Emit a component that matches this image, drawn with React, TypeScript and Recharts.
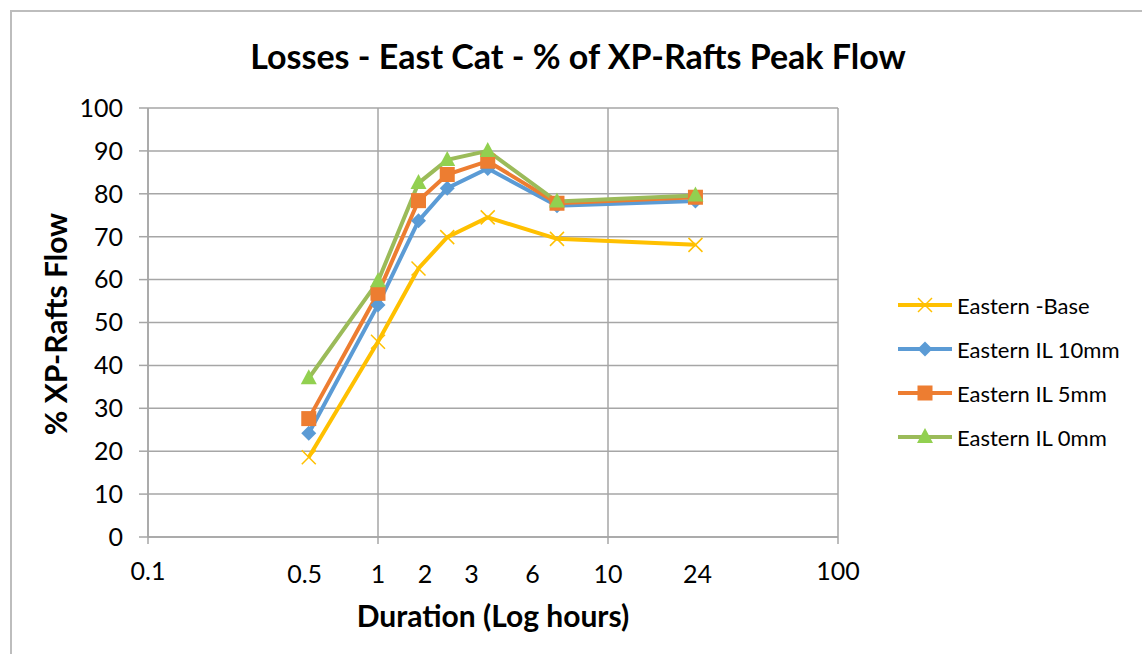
import React from 'react';
import { LineChart, Line, XAxis, YAxis, CartesianGrid, Legend, ReferenceLine } from 'recharts';

const durations = [0.5, 1, 1.5, 2, 3, 6, 24];
const easternBase = [18.6, 45.5, 62.6, 69.9, 74.5, 69.5, 68.1];
const easternIL10 = [24.2, 54.1, 73.7, 81.3, 85.9, 77.2, 78.3];
const easternIL5 = [27.6, 56.8, 78.4, 84.5, 87.6, 77.8, 79.2];
const easternIL0 = [37.0, 59.6, 82.5, 87.9, 90.0, 78.2, 79.6];

const decadeTicks = [0.1, 1, 10, 100];
const xLabelPositions = [0.1, 0.48, 1, 1.6, 2.55, 4.7, 10, 24.5, 100];
const xLabelTexts = ['0.1', '0.5', '1', '2', '3', '6', '10', '24', '100'];
const yTicks = [0, 10, 20, 30, 40, 50, 60, 70, 80, 90, 100];

const seriesDefs = [
  { key: 'base', name: 'Eastern -Base', color: '#FFC000', marker: 'x', fill: '#FFC000' },
  { key: 'il10', name: 'Eastern IL 10mm', color: '#5B9BD5', marker: 'diamond', fill: '#5B9BD5' },
  { key: 'il5', name: 'Eastern IL 5mm', color: '#ED7D31', marker: 'square', fill: '#ED7D31' },
  { key: 'il0', name: 'Eastern IL 0mm', color: '#9BBB59', marker: 'triangle', fill: '#92D050' },
];

const data = durations.map((d, i) => ({
  duration: d,
  base: easternBase[i],
  il10: easternIL10[i],
  il5: easternIL5[i],
  il0: easternIL0[i],
}));

const FONT = 'Lato, "Open Sans", sans-serif';
const GRID = '#A6A6A6';

function Marker({ cx, cy, type, fill }: any) {
  if (cx == null || cy == null) return null;
  if (type === 'x') {
    const h = 7;
    return (
      <g>
        <line x1={cx - h} y1={cy - h} x2={cx + h} y2={cy + h} stroke={fill} strokeWidth={1.5} />
        <line x1={cx - h} y1={cy + h} x2={cx + h} y2={cy - h} stroke={fill} strokeWidth={1.5} />
      </g>
    );
  }
  if (type === 'diamond') {
    const h = 7.5;
    return <polygon points={`${cx},${cy - h} ${cx + h},${cy} ${cx},${cy + h} ${cx - h},${cy}`} fill={fill} />;
  }
  if (type === 'square') {
    const h = 7.5;
    return <rect x={cx - h} y={cy - h} width={2 * h} height={2 * h} fill={fill} />;
  }
  const w = 8;
  return <polygon points={`${cx},${cy - 9} ${cx + w},${cy + 6} ${cx - w},${cy + 6}`} fill={fill} />;
}

function XTick(props: any) {
  const { x, y, payload } = props;
  const v = payload.value;
  const idx = xLabelPositions.indexOf(v);
  const text = idx >= 0 ? xLabelTexts[idx] : '';
  const isDecade = decadeTicks.indexOf(v) >= 0;
  const isAxisLabel = v === 0.1 || v === 100;
  return (
    <g>
      {isDecade && <line x1={x} y1={y - 8} x2={x} y2={y - 1} stroke={GRID} strokeWidth={1.5} />}
      <text
        x={x}
        y={y + (isAxisLabel ? 25 : 28)}
        textAnchor="middle"
        dominantBaseline="central"
        fontFamily={FONT}
        fontSize={25}
        fill="#000"
      >
        {text}
      </text>
    </g>
  );
}

function LegendContent() {
  return (
    <div style={{ fontFamily: FONT }}>
      {seriesDefs.map((s) => (
        <div key={s.key} style={{ display: 'flex', alignItems: 'center', height: 44 }}>
          <svg width={56} height={24} style={{ display: 'block' }}>
            <line x1={1} y1={12} x2={55} y2={12} stroke={s.color} strokeWidth={4} />
            <Marker cx={28} cy={12} type={s.marker} fill={s.fill} />
          </svg>
          <span style={{ fontSize: 22, color: '#000', marginLeft: 4, whiteSpace: 'nowrap' }}>{s.name}</span>
        </div>
      ))}
    </div>
  );
}

export default function App() {
  return (
    <div style={{ position: 'absolute', left: 0, top: 0, width: 1142, height: 654, background: '#fff', overflow: 'hidden' }}>
      <div
        style={{
          position: 'absolute',
          left: 10,
          top: 10,
          width: 1160,
          height: 680,
          border: '2px solid #BDBDBD',
          boxSizing: 'border-box',
        }}
      />
      <div
        style={{
          position: 'absolute',
          left: 0,
          width: 1156,
          top: 35,
          textAlign: 'center',
          fontFamily: FONT,
          fontWeight: 700,
          fontSize: 34,
          color: '#000',
          lineHeight: '42px',
        }}
      >
        Losses - East Cat - % of XP-Rafts Peak Flow
      </div>
      <div
        style={{
          position: 'absolute',
          left: 55,
          top: 324,
          transform: 'translate(-50%, -50%) rotate(-90deg)',
          fontFamily: FONT,
          fontWeight: 700,
          fontSize: 30,
          color: '#000',
          whiteSpace: 'nowrap',
        }}
      >
        % XP-Rafts Flow
      </div>
      <div
        style={{
          position: 'absolute',
          left: 493,
          top: 615,
          transform: 'translate(-50%, -50%)',
          fontFamily: FONT,
          fontWeight: 700,
          fontSize: 30,
          color: '#000',
          whiteSpace: 'nowrap',
        }}
      >
        Duration (Log hours)
      </div>
      <div style={{ position: 'absolute', left: 0, top: 0 }}>
        <LineChart width={1142} height={654} data={data} margin={{ top: 108, right: 304, bottom: 57, left: 68 }}>
          <CartesianGrid vertical={false} stroke={GRID} strokeWidth={1.5} />
          {decadeTicks.map((t) => (
            <ReferenceLine key={t} x={t} stroke={GRID} strokeWidth={1.5} ifOverflow="extendDomain" />
          ))}
          <XAxis
            dataKey="duration"
            type="number"
            scale="log"
            domain={[0.1, 100]}
            ticks={xLabelPositions}
            interval={0}
            allowDataOverflow
            height={60}
            axisLine={{ stroke: GRID, strokeWidth: 1.5 }}
            tickLine={false}
            tick={<XTick />}
          />
          <YAxis
            type="number"
            domain={[0, 100]}
            ticks={yTicks}
            interval={0}
            width={80}
            axisLine={{ stroke: GRID, strokeWidth: 1.5 }}
            tickLine={{ stroke: GRID, strokeWidth: 1.5 }}
            tickSize={9}
            tickMargin={16}
            tick={{ fontFamily: FONT, fontSize: 25, fill: '#000' }}
          />
          <Legend
            layout="vertical"
            align="center"
            verticalAlign="middle"
            content={<LegendContent />}
            wrapperStyle={{ position: 'absolute', left: 897, top: 283, width: 240, height: 180 }}
          />
          {seriesDefs.map((s) => (
            <Line
              key={s.key}
              dataKey={s.key}
              name={s.name}
              type="linear"
              stroke={s.color}
              strokeWidth={4}
              isAnimationActive={false}
              dot={(p: any) => <Marker key={`${s.key}-${p.index}`} cx={p.cx} cy={p.cy} type={s.marker} fill={s.fill} />}
              activeDot={false}
            />
          ))}
        </LineChart>
      </div>
    </div>
  );
}
